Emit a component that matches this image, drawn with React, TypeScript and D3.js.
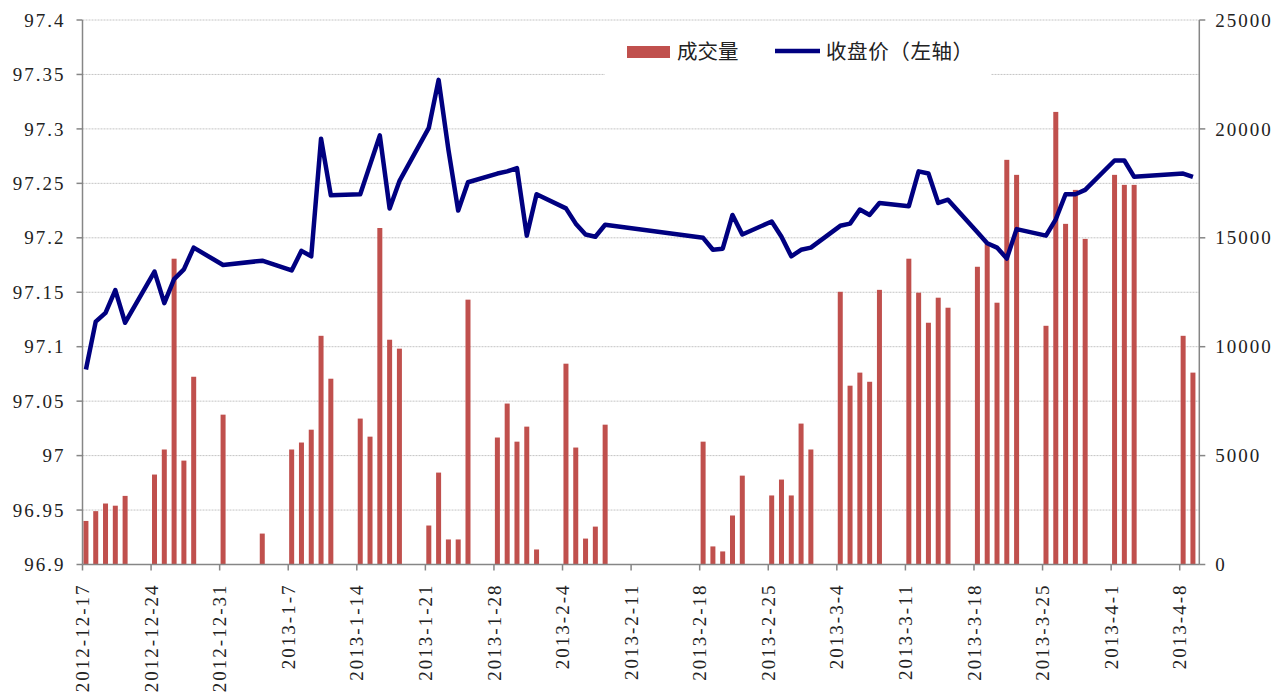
import React from "react";
import * as d3 from "d3";

const tradeDates: string[] = [
  "2012-12-17","2012-12-18","2012-12-19","2012-12-20","2012-12-21",
  "2012-12-24","2012-12-25","2012-12-26","2012-12-27","2012-12-28",
  "2012-12-31","2013-01-04",
  "2013-01-07","2013-01-08","2013-01-09","2013-01-10","2013-01-11",
  "2013-01-14","2013-01-15","2013-01-16","2013-01-17","2013-01-18",
  "2013-01-21","2013-01-22","2013-01-23","2013-01-24","2013-01-25",
  "2013-01-28","2013-01-29","2013-01-30","2013-01-31","2013-02-01",
  "2013-02-04","2013-02-05","2013-02-06","2013-02-07","2013-02-08",
  "2013-02-18","2013-02-19","2013-02-20","2013-02-21","2013-02-22",
  "2013-02-25","2013-02-26","2013-02-27","2013-02-28","2013-03-01",
  "2013-03-04","2013-03-05","2013-03-06","2013-03-07","2013-03-08",
  "2013-03-11","2013-03-12","2013-03-13","2013-03-14","2013-03-15",
  "2013-03-18","2013-03-19","2013-03-20","2013-03-21","2013-03-22",
  "2013-03-25","2013-03-26","2013-03-27","2013-03-28","2013-03-29",
  "2013-04-01","2013-04-02","2013-04-03",
  "2013-04-08","2013-04-09",
];

const closePrice: number[] = [
  97.079, 97.123, 97.131, 97.152, 97.122,
  97.169, 97.140, 97.162, 97.171, 97.191,
  97.175, 97.179,
  97.170, 97.188, 97.183, 97.291, 97.239,
  97.240, 97.267, 97.294, 97.227, 97.252,
  97.301, 97.345, 97.281, 97.225, 97.251,
  97.259, 97.261, 97.264, 97.202, 97.240,
  97.227, 97.213, 97.203, 97.201, 97.212,
  97.200, 97.189, 97.190, 97.221, 97.203,
  97.215, 97.201, 97.183, 97.189, 97.191,
  97.211, 97.213, 97.226, 97.221, 97.232,
  97.229, 97.261, 97.259, 97.232, 97.235,
  97.205, 97.195, 97.191, 97.181, 97.208,
  97.202, 97.217, 97.240, 97.240, 97.244,
  97.271, 97.271, 97.256,
  97.259, 97.256,
];

const volume: number[] = [
  2000, 2450, 2800, 2700, 3150,
  4130, 5280, 14040, 4770, 8620,
  6880, 1420,
  5280, 5600, 6190, 10500, 8530,
  6700, 5870, 15450, 10320, 9910,
  1790, 4220, 1150, 1150, 12160,
  5830, 7390, 5640, 6330, 690,
  9220, 5370, 1190, 1740, 6420,
  5640, 830, 600, 2250, 4080,
  3170, 3900, 3170, 6470, 5280,
  12520, 8210, 8810, 8390, 12610,
  14040, 12480, 11100, 12250, 11790,
  13670, 14730, 12020, 18580, 17890,
  10960, 20780, 15640, 17200, 14950,
  17890, 17430, 17430,
  10500, 8810,
];

const leftTicks: number[] = [96.9, 96.95, 97, 97.05, 97.1, 97.15, 97.2, 97.25, 97.3, 97.35, 97.4];
const rightTicks: number[] = [0, 5000, 10000, 15000, 20000, 25000];
const xTickDates: string[] = [
  "2012-12-17","2012-12-24","2012-12-31","2013-01-07","2013-01-14","2013-01-21",
  "2013-01-28","2013-02-04","2013-02-11","2013-02-18","2013-02-25","2013-03-04",
  "2013-03-11","2013-03-18","2013-03-25","2013-04-01","2013-04-08",
];
const axisStart = "2012-12-17";
const axisEnd = "2013-04-10";

const legendVolume = "成交量";
const legendClose = "收盘价（左轴）";

const parse = d3.timeParse("%Y-%m-%d");
const fmtTick = (d: Date) => `${d.getFullYear()}-${d.getMonth() + 1}-${d.getDate()}`;

const W = 1285;
const H = 697;
const plot = { left: 82.5, right: 1199.3, top: 20, bottom: 564.5 };

const fontNum = "'Times New Roman', 'Liberation Serif', serif";
const fontCJK = "'Noto Sans CJK SC', sans-serif";

export default function App() {
  const x = d3.scaleTime()
    .domain([parse(axisStart)!, parse(axisEnd)!])
    .range([plot.left, plot.right]);
  const dayW = (plot.right - plot.left) / 114;
  const yL = d3.scaleLinear().domain([96.9, 97.4]).range([plot.bottom, plot.top]);
  const yR = d3.scaleLinear().domain([0, 25000]).range([plot.bottom, plot.top]);

  const cx = (s: string) => x(parse(s)!) + dayW * 0.35;
  const barW = 5;

  const pts: [number, number][] = tradeDates.map((d, i) => [cx(d), yL(closePrice[i])]);
  const linePath = d3.line()(pts) || "";

  const numStyle: React.CSSProperties = { fontFamily: fontNum, fontSize: "19px", letterSpacing: "2px", fill: "#222" };

  return (
    <svg width={W} height={H} style={{ position: "absolute", left: 0, top: 0, background: "#fff", fontFamily: fontNum }}>
      {leftTicks.slice(1).map((t) => (
        <line key={"g" + t} x1={plot.left} x2={plot.right} y1={yL(t)} y2={yL(t)}
          stroke="#c4c4c4" strokeWidth={1} strokeDasharray="2 1" />
      ))}
      {tradeDates.map((d, i) => (
        <rect key={"b" + d} x={cx(d) - barW / 2} y={yR(volume[i])} width={barW}
          height={yR(0) - yR(volume[i])} fill="#C0504D" />
      ))}
      <path d={linePath} fill="none" stroke="#000080" strokeWidth={4.5} strokeLinejoin="round" />
      <line x1={plot.left} x2={plot.left} y1={plot.top} y2={plot.bottom} stroke="#868686" strokeWidth={1.5} />
      <line x1={plot.right} x2={plot.right} y1={plot.top} y2={plot.bottom} stroke="#868686" strokeWidth={1.5} />
      <line x1={plot.left} x2={plot.right} y1={plot.bottom} y2={plot.bottom} stroke="#868686" strokeWidth={1.5} />
      {leftTicks.map((t) => (
        <g key={"l" + t}>
          <line x1={plot.left - 6} x2={plot.left} y1={yL(t)} y2={yL(t)} stroke="#868686" strokeWidth={1.5} />
          <text x={plot.left - 17} y={yL(t)} dy="0.35em" textAnchor="end" style={numStyle}>
            {String(t)}
          </text>
        </g>
      ))}
      {rightTicks.map((t) => (
        <g key={"r" + t}>
          <line x1={plot.right} x2={plot.right + 6} y1={yR(t)} y2={yR(t)} stroke="#868686" strokeWidth={1.5} />
          <text x={plot.right + 16} y={yR(t)} dy="0.35em" textAnchor="start" style={numStyle}>
            {String(t)}
          </text>
        </g>
      ))}
      {xTickDates.map((s) => {
        const xv = x(parse(s)!);
        return (
          <g key={"x" + s}>
            <line x1={xv} x2={xv} y1={plot.bottom} y2={plot.bottom + 6} stroke="#868686" strokeWidth={1.5} />
            <text transform={`translate(${xv},${plot.bottom + 19}) rotate(-90)`} dy="0.35em"
              textAnchor="end" style={numStyle}>
              {fmtTick(parse(s)!)}
            </text>
          </g>
        );
      })}
      <rect x={605} y={28} width={386} height={50} fill="#fff" />
      <rect x={627} y={46} width={43} height={12} fill="#C0504D" />
      <text x={677} y={52} dy="0.35em" style={{ fontFamily: fontCJK, fontSize: "20.5px", fill: "#222" }}>{legendVolume}</text>
      <line x1={775} x2={820} y1={51} y2={51} stroke="#000080" strokeWidth={4.5} />
      <text x={826} y={52} dy="0.35em" style={{ fontFamily: fontCJK, fontSize: "20.5px", letterSpacing: "0.6px", fill: "#222" }}>{legendClose}</text>
    </svg>
  );
}
